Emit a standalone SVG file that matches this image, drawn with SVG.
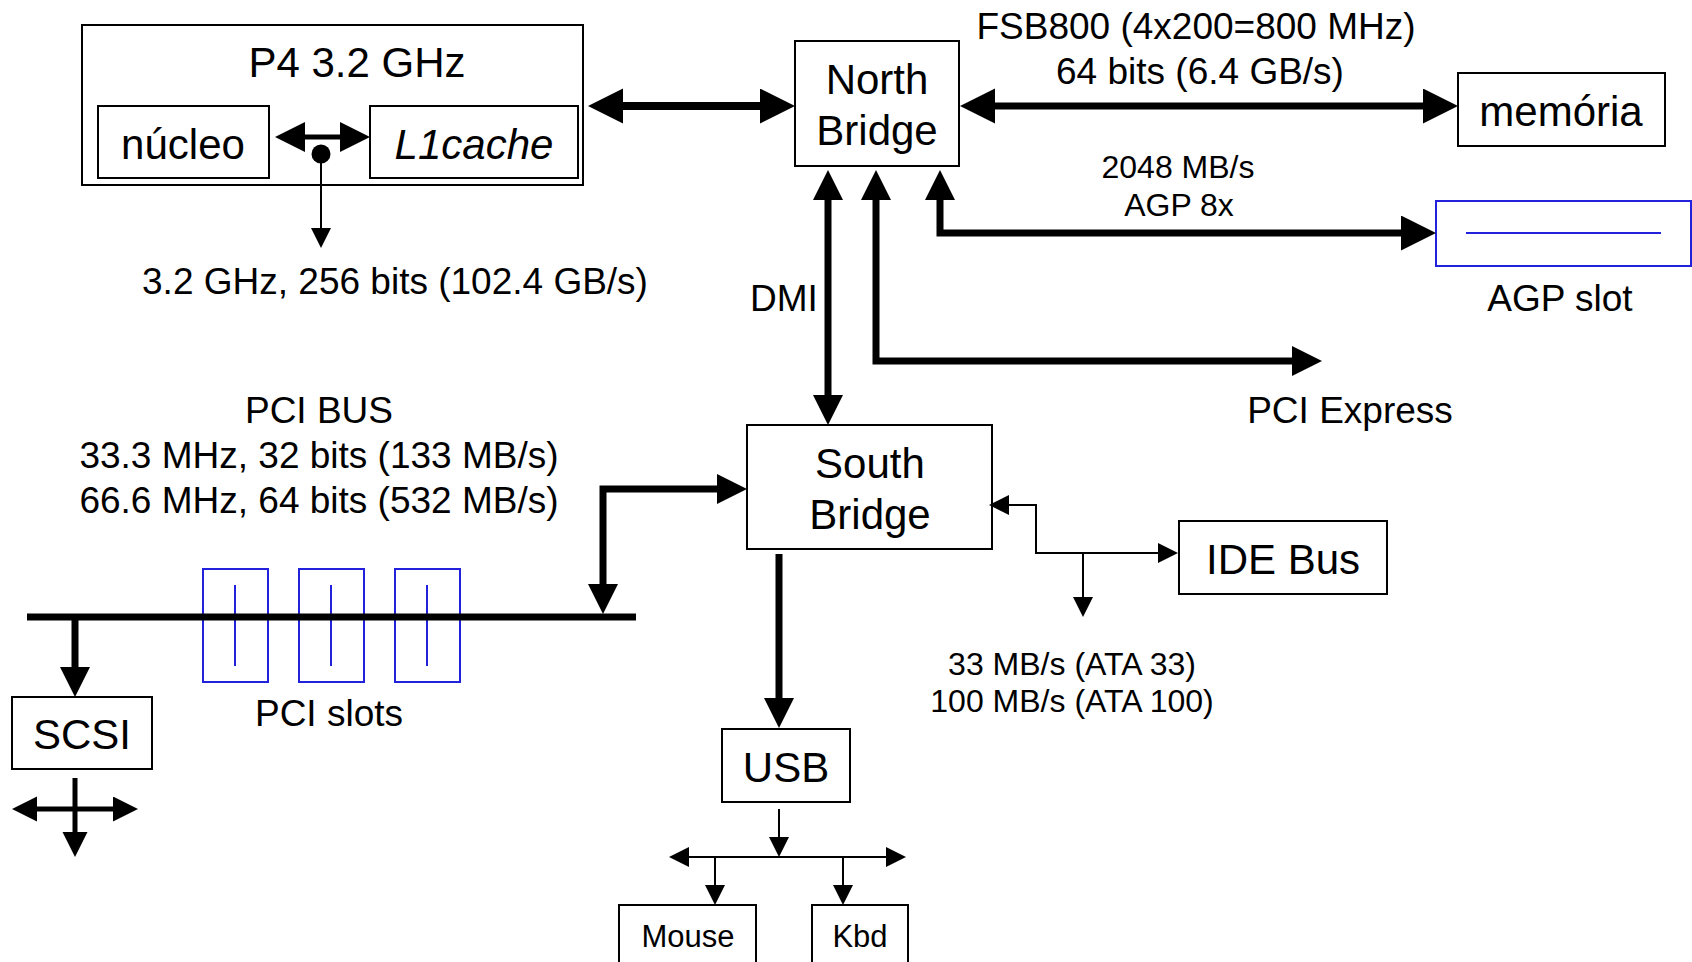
<svg xmlns="http://www.w3.org/2000/svg" width="1692" height="962" viewBox="0 0 1692 962">
<style>
text{font-family:"Liberation Sans",Arial,sans-serif;fill:#000;text-anchor:middle}
.t42{font-size:42px}
.t37{font-size:37px}
.t32{font-size:32px}
.t31{font-size:31px}
.box{fill:#fff;stroke:#000;stroke-width:2}
.slot{fill:none;stroke:#2222dd;stroke-width:2}
.thick{fill:none;stroke:#000;stroke-width:7}
.mid{fill:none;stroke:#000;stroke-width:5}
.thin{fill:none;stroke:#000;stroke-width:2}
</style>
<defs>
<marker id="mA" markerUnits="userSpaceOnUse" markerWidth="36" markerHeight="36" refX="0" refY="17.5" orient="auto-start-reverse"><path d="M0,0 L35,17.5 L0,35 z" fill="#000"/></marker>
<marker id="mB" markerUnits="userSpaceOnUse" markerWidth="31" markerHeight="31" refX="0" refY="15" orient="auto-start-reverse"><path d="M0,0 L30,15 L0,30 z" fill="#000"/></marker>
<marker id="mE" markerUnits="userSpaceOnUse" markerWidth="26" markerHeight="26" refX="0" refY="12.5" orient="auto-start-reverse"><path d="M0,0 L25,12.5 L0,25 z" fill="#000"/></marker>
<marker id="mD" markerUnits="userSpaceOnUse" markerWidth="21" markerHeight="21" refX="0" refY="10" orient="auto-start-reverse"><path d="M0,0 L20,10 L0,20 z" fill="#000"/></marker>
</defs>

<g id="p4">
<rect class="box" x="82" y="25" width="501" height="160"/>
<text class="t42" x="357" y="77">P4 3.2 GHz</text>
</g>
<g id="nucleo">
<rect class="box" x="98" y="106" width="171" height="72"/>
<text class="t42" x="183" y="159">núcleo</text>
</g>
<g id="l1cache">
<rect class="box" x="370" y="106" width="208" height="72"/>
<text class="t42" x="474" y="159" font-style="italic">L1cache</text>
</g>
<g id="northbridge">
<rect class="box" x="795" y="41" width="164" height="125"/>
<text class="t42" x="877" y="94">North</text>
<text class="t42" x="877" y="145">Bridge</text>
</g>
<g id="memoria">
<rect class="box" x="1458" y="73" width="207" height="73"/>
<text class="t42" x="1561" y="126">memória</text>
</g>
<g id="agpslot">
<rect class="slot" x="1436" y="201" width="255" height="65"/>
<line class="slot" x1="1466" y1="233" x2="1661" y2="233"/>
<text class="t37" x="1560" y="311">AGP slot</text>
</g>
<g id="southbridge">
<rect class="box" x="747" y="425" width="245" height="124"/>
<text class="t42" x="870" y="478">South</text>
<text class="t42" x="870" y="529">Bridge</text>
</g>
<g id="idebus">
<rect class="box" x="1179" y="521" width="208" height="73"/>
<text class="t42" x="1283" y="574">IDE Bus</text>
</g>
<g id="pcislots">
<rect class="slot" x="203" y="569" width="65" height="113"/>
<rect class="slot" x="299" y="569" width="65" height="113"/>
<rect class="slot" x="395" y="569" width="65" height="113"/>
<line class="slot" x1="235" y1="585" x2="235" y2="666"/>
<line class="slot" x1="331" y1="585" x2="331" y2="666"/>
<line class="slot" x1="427" y1="585" x2="427" y2="666"/>
<text class="t37" x="329" y="726">PCI slots</text>
</g>
<g id="scsi">
<rect class="box" x="12" y="697" width="140" height="72"/>
<text class="t42" x="82" y="749">SCSI</text>
</g>
<g id="usb">
<rect class="box" x="722" y="729" width="128" height="73"/>
<text class="t42" x="786" y="782">USB</text>
</g>
<g id="mouse">
<rect class="box" x="619" y="905" width="137" height="70"/>
<text class="t31" x="688" y="947">Mouse</text>
</g>
<g id="kbd">
<rect class="box" x="812" y="905" width="96" height="70"/>
<text class="t31" x="860" y="947">Kbd</text>
</g>

<g id="connectors">
<line x1="623" y1="106" x2="760" y2="106" stroke="#000" stroke-width="8" marker-start="url(#mA)" marker-end="url(#mA)"/>
<line class="thick" x1="995" y1="106" x2="1423" y2="106" marker-start="url(#mA)" marker-end="url(#mA)"/>
<path class="thick" d="M940,200 V233 H1401" marker-start="url(#mB)" marker-end="url(#mA)"/>
<path class="thick" d="M876,200 V361 H1292" marker-start="url(#mB)" marker-end="url(#mB)"/>
<line class="thick" x1="828" y1="200" x2="828" y2="395" marker-start="url(#mB)" marker-end="url(#mB)"/>
<path class="thick" d="M603,584 V489 H717" marker-start="url(#mB)" marker-end="url(#mB)"/>
<line class="thick" x1="27" y1="617" x2="636" y2="617"/>
<line class="thick" x1="75" y1="617" x2="75" y2="667" marker-end="url(#mB)"/>
<line class="mid" x1="75" y1="778" x2="75" y2="832" marker-end="url(#mE)"/>
<line class="mid" x1="37" y1="809" x2="113" y2="809" marker-start="url(#mE)" marker-end="url(#mE)"/>
<line class="thick" x1="779" y1="554" x2="779" y2="698" marker-end="url(#mB)"/>
<line class="thin" x1="779" y1="809" x2="779" y2="837" marker-end="url(#mD)"/>
<line class="thin" x1="689" y1="857" x2="886" y2="857" marker-start="url(#mD)" marker-end="url(#mD)"/>
<line class="thin" x1="715" y1="857" x2="715" y2="885" marker-end="url(#mD)"/>
<line class="thin" x1="843" y1="857" x2="843" y2="885" marker-end="url(#mD)"/>
<path class="thin" d="M1009,505 H1036 V553 H1158" marker-start="url(#mD)" marker-end="url(#mD)"/>
<line class="thin" x1="1083" y1="553" x2="1083" y2="597" marker-end="url(#mD)"/>
<line class="mid" x1="305" y1="137" x2="340" y2="137" marker-start="url(#mB)" marker-end="url(#mB)"/>
<circle cx="321" cy="154" r="9.5" fill="#000"/>
<line class="thin" x1="321" y1="154" x2="321" y2="228" marker-end="url(#mD)"/>
</g>

<g id="labels">
<text class="t37" x="395" y="294">3.2 GHz, 256 bits (102.4 GB/s)</text>
<text class="t37" x="1196" y="39">FSB800 (4x200=800 MHz)</text>
<text class="t37" x="1200" y="84">64 bits (6.4 GB/s)</text>
<text class="t32" x="1178" y="178">2048 MB/s</text>
<text class="t32" x="1179" y="216">AGP 8x</text>
<text class="t37" x="784" y="311">DMI</text>
<text class="t37" x="1350" y="423">PCI Express</text>
<text class="t37" x="319" y="423">PCI BUS</text>
<text class="t37" x="319" y="468">33.3 MHz, 32 bits (133 MB/s)</text>
<text class="t37" x="319" y="513">66.6 MHz, 64 bits (532 MB/s)</text>
<text class="t32" x="1072" y="675">33 MB/s (ATA 33)</text>
<text class="t32" x="1072" y="712">100 MB/s (ATA 100)</text>
</g>
</svg>
